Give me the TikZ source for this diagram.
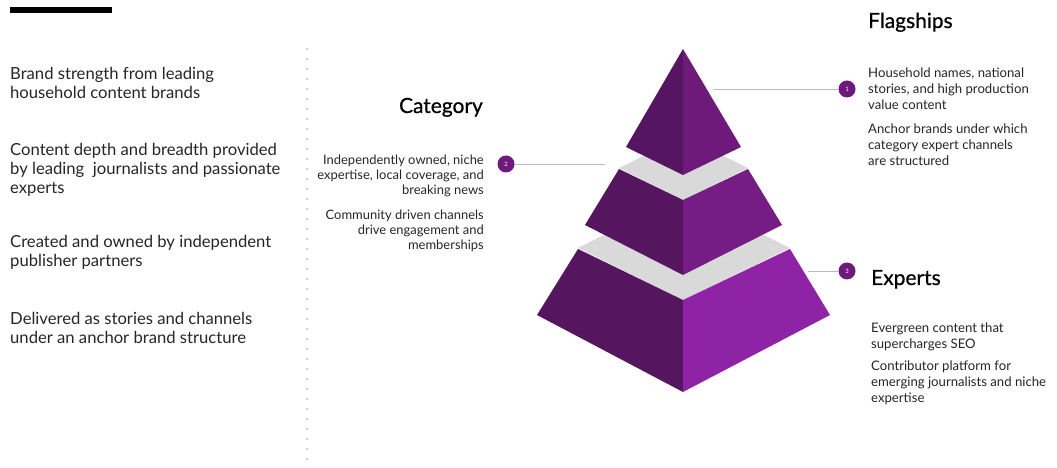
\documentclass[tikz,border=0pt]{standalone}
\usepackage{fontspec}
\setmainfont{Lato}
\newfontfamily\headfont[FakeBold=0.7]{Lato}
\usetikzlibrary{calc}
\definecolor{darkplum}{HTML}{55155F}
\definecolor{plumtop}{HTML}{6D1A7B}
\definecolor{plummid}{HTML}{761D85}
\definecolor{plumlow}{HTML}{8E24A5}
\definecolor{ledge}{HTML}{D9D9D9}
\definecolor{inktext}{HTML}{262626}
\definecolor{leader}{HTML}{BBBBBB}

\begin{document}
\begin{tikzpicture}[x=1bp,y=-1bp,
		bodytext/.style={inner sep=0pt,text=inktext,font=\fontsize{16.7}{19.5}\selectfont,align=left,anchor=base west},
		sidetext/.style={inner sep=0pt,text=inktext,font=\fontsize{13.2}{16.3}\selectfont},
		cattext/.style={inner sep=0pt,text=inktext,font=\fontsize{13}{15.2}\selectfont,align=right,anchor=base east},
		headtext/.style={inner sep=0pt,text=black,font=\headfont\fontsize{21}{24}\selectfont},
		marker/.style={circle,fill=plumtop,minimum size=17bp,inner sep=0pt,text=white,font=\fontsize{6}{6}\selectfont},
		leaderline/.style={leader,line width=0.8bp}]
	\useasboundingbox (0,0) rectangle (1057,468);
	% top bar and divider
	\fill[black] (10,7) rectangle (112,13);
	\foreach \k in {0,...,41}
		\fill[gray!50] ($(307,49)+(0,\k*10)$) circle (1.1);
	
	% left column (anchored at the last baseline)
	\node[bodytext] (brand) at (10,99) {Brand strength from leading\\household content brands};
	\node[bodytext] (depth) at (10,194) {Content depth and breadth provided\\by leading\ \ journalists and passionate\\experts};
	\node[bodytext] (owned) at (10,267) {Created and owned by independent\\publisher partners};
	\node[bodytext] (deliv) at (10,343.5) {Delivered as stories and channels\\under an anchor brand structure};
	
	% bottom tier
	\fill[ledge] (578,248) -- (683,195) -- (790,248) -- (683,300) -- cycle;
	\fill[darkplum] (578,249) -- (683,300) -- (683,392) -- (537,315) -- cycle;
	\fill[plumlow] (790,249) -- (683,300) -- (683,392) -- (830,315) -- cycle;
	% middle tier
	\fill[ledge] (619,168) -- (683,136) -- (748,168) -- (683,200) -- cycle;
	\fill[darkplum] (619,169) -- (683,200) -- (683,275) -- (585,225) -- cycle;
	\fill[plummid] (748,169) -- (683,200) -- (683,275) -- (782,225) -- cycle;
	% top tier
	\fill[darkplum!95!plumtop] (683,49) -- (626,147) -- (683,175) -- cycle;
	\fill[plumtop] (683,49) -- (741,147) -- (683,175) -- cycle;
	
	\coordinate (tipA) at (713,89);
	\coordinate (tipB) at (605,164);
	\coordinate (tipC) at (808,271);
	\node[marker] (one) at (847,89) {\raisebox{-5bp}{1}};
	\node[marker] (two) at (506,164) {\raisebox{-5bp}{2}};
	\node[marker] (three) at (847,271) {\raisebox{-5bp}{3}};
	\draw[leaderline] (tipA) -- (one);
	\draw[leaderline] (tipB) -- (two);
	\draw[leaderline] (tipC) -- (three);
	
	% labels
	\node[headtext,anchor=base west] (flag) at (868,28) {Flagships};
	\node[headtext,anchor=base east] (cat) at (483,113) {Category};
	\node[headtext,anchor=base west] (exp) at (871,285) {Experts};
	
	\node[sidetext,anchor=base west,align=left] (flagA) at (868,110) {Household names, national\\stories, and high production\\value content};
	\node[sidetext,anchor=base west,align=left] (flagB) at (868,166) {Anchor brands under which\\category expert channels\\are structured};
	\node[cattext] (catA) at (484,195) {Independently owned, niche\\expertise, local coverage, and\\breaking news};
	\node[cattext] (catB) at (484,250) {Community driven channels\\drive engagement and\\memberships};
	\node[sidetext,anchor=base west,align=left] (expA) at (871,349) {Evergreen content that\\supercharges SEO};
	\node[sidetext,anchor=base west,align=left] (expB) at (871,403) {Contributor platform for\\emerging journalists and niche\\expertise};
\end{tikzpicture}
\end{document}
